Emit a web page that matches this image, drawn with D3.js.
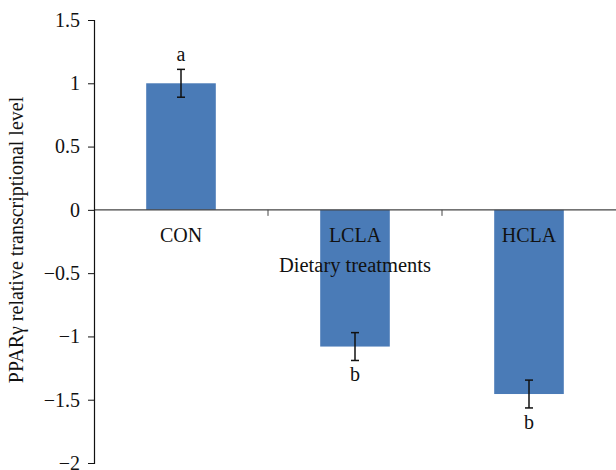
<!DOCTYPE html>
<html>
<head>
<meta charset="utf-8" />
<script src="https://d3js.org/d3.v7.min.js"></script>
<style>
  body { margin: 0; background: #fff; }
  text { font-family: "Liberation Serif", "DejaVu Serif", serif; fill: #111; }
</style>
</head>
<body>
<svg id="chart"></svg>
<script>
// data
var categories = ["CON", "LCLA", "HCLA"];
var values = [1.0, -1.08, -1.455];
var errors = [0.11, 0.11, 0.11];
var letters = ["a", "b", "b"];
var yTicks = [-2, -1.5, -1, -0.5, 0, 0.5, 1, 1.5];

var width = 616, height = 470;
var margin = {top: 20, right: 0, bottom: 7, left: 94};

var svg = d3.select("#chart").attr("width", width).attr("height", height);

var y = d3.scaleLinear()
  .domain([-2, 1.5])
  .range([height - margin.bottom, margin.top]);

var x = d3.scaleBand()
  .domain(categories)
  .range([margin.left, width - margin.right])
  .padding(0);

var barW = x.bandwidth() * 0.4;

// bars
svg.append("g").selectAll("rect")
  .data(values)
  .enter().append("rect")
  .attr("x", function(d, i) { return x(categories[i]) + x.bandwidth() / 2 - barW / 2; })
  .attr("y", function(d) { return y(Math.max(0, d)); })
  .attr("width", barW)
  .attr("height", function(d) { return Math.abs(y(d) - y(0)); })
  .attr("fill", "#4a7bb7");

// x axis line at zero, ticks at category boundaries
var xg = svg.append("g");
xg.append("line")
  .attr("x1", margin.left).attr("x2", width)
  .attr("y1", y(0)).attr("y2", y(0))
  .attr("stroke", "#444").attr("stroke-width", 1.2);
xg.selectAll(".xt")
  .data(categories.slice(1))
  .enter().append("line")
  .attr("x1", function(d) { return x(d); })
  .attr("x2", function(d) { return x(d); })
  .attr("y1", y(0)).attr("y2", y(0) + 6)
  .attr("stroke", "#444");

// category labels
svg.append("g").selectAll("text")
  .data(categories)
  .enter().append("text")
  .attr("x", function(d) { return x(d) + x.bandwidth() / 2; })
  .attr("y", y(0) + 32)
  .attr("text-anchor", "middle")
  .attr("font-size", 20)
  .text(function(d) { return d; });

svg.append("text")
  .attr("x", x("LCLA") + x.bandwidth() / 2)
  .attr("y", y(0) + 62)
  .attr("text-anchor", "middle")
  .attr("font-size", 20.5)
  .text("Dietary treatments");

// error bars
var eb = svg.append("g").attr("stroke", "#111").attr("stroke-width", 1.5);
values.forEach(function(v, i) {
  var cx = x(categories[i]) + x.bandwidth() / 2;
  var hi = y(v + errors[i]), lo = y(v - errors[i]);
  eb.append("line").attr("x1", cx).attr("x2", cx).attr("y1", hi).attr("y2", lo);
  eb.append("line").attr("x1", cx - 4).attr("x2", cx + 4).attr("y1", hi).attr("y2", hi);
  eb.append("line").attr("x1", cx - 4).attr("x2", cx + 4).attr("y1", lo).attr("y2", lo);
});

// significance letters
svg.append("g").selectAll("text")
  .data(letters)
  .enter().append("text")
  .attr("x", function(d, i) { return x(categories[i]) + x.bandwidth() / 2; })
  .attr("y", function(d, i) {
    var v = values[i];
    return v >= 0 ? y(v + errors[i]) - 8 : y(v - errors[i]) + 21;
  })
  .attr("text-anchor", "middle")
  .attr("font-size", 20)
  .text(function(d) { return d; });

// y axis
var yAxis = d3.axisLeft(y)
  .tickValues(yTicks)
  .tickFormat(d3.format("~g"))
  .tickSize(6)
  .tickPadding(8);

var yg = svg.append("g")
  .attr("transform", "translate(" + margin.left + ",0)")
  .call(yAxis);
yg.select(".domain").attr("stroke", "#111").attr("stroke-width", 1.2);
yg.selectAll(".tick line").attr("stroke", "#111");
yg.selectAll(".tick text")
  .attr("font-size", 20)
  .attr("font-family", "Liberation Serif, serif")
  .attr("fill", "#111");

svg.append("text")
  .attr("transform", "translate(23," + 240 + ") rotate(-90)")
  .attr("text-anchor", "middle")
  .attr("font-size", 20)
  .text("PPARγ relative transcriptional level");
</script>
</body>
</html>
